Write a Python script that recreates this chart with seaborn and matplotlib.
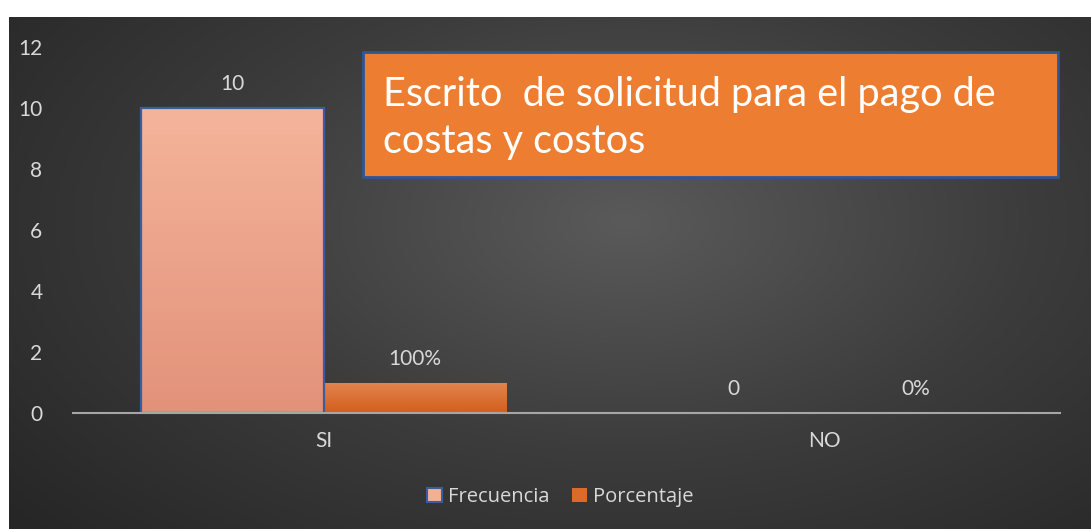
import numpy as np
import pandas as pd
import matplotlib
matplotlib.use("Agg")
import matplotlib.pyplot as plt
import seaborn as sns
from matplotlib.colors import LinearSegmentedColormap
from matplotlib.patches import Rectangle, Patch

categorias = ["SI", "NO"]
frecuencia = [10, 0]
porcentaje = [1, 0]
etiquetas_frec = ["10", "0"]
etiquetas_porc = ["100%", "0%"]
series = ["Frecuencia", "Porcentaje"]
titulo = "Escrito  de solicitud para el pago de\ncostas y costos"
y_ticks = [0, 2, 4, 6, 8, 10, 12]

df = pd.DataFrame({
    "categoria": categorias * 2,
    "valor": frecuencia + porcentaje,
    "serie": [series[0]] * 2 + [series[1]] * 2,
})

sns.set_theme(style="white")
plt.rcParams["font.family"] = ["Lato", "DejaVu Sans"]
txt_color = "#d9d9d9"
fs = 15

fig = plt.figure(figsize=(10.91, 5.29), dpi=100)
fig.patch.set_facecolor("white")

# dark radial background
bg = fig.add_axes([9 / 1091, 0, 1 - 9 / 1091, 512 / 529])
bg.set_axis_off()
gx, gy = np.meshgrid(np.linspace(0, 1, 400), np.linspace(0, 1, 200))
dist = np.sqrt(((gx - 0.57) / 0.75) ** 2 + ((gy - 0.40) / 0.9) ** 2)
bg_cmap = LinearSegmentedColormap.from_list("bg", ["#5a5a5a", "#3c3c3c", "#262626"])
bg.imshow(np.clip(dist, 0, 1), cmap=bg_cmap, aspect="auto", extent=[0, 1, 0, 1],
          vmin=0, vmax=1, origin="upper")
bg.set_xlim(0, 1)
bg.set_ylim(0, 1)

ax = fig.add_axes([73 / 1091, 116 / 529, 1002 / 1091, 366 / 529])
ax.patch.set_alpha(0)

sns.barplot(data=df, x="categoria", y="valor", hue="serie",
            palette=["#f3b096", "#dc6a28"], width=0.73, gap=0,
            saturation=1, ax=ax, legend=False)

grad_colors = {
    0: ("#f4b49b", "#e3927a"),
    1: ("#e38450", "#d25f1c"),
}
for i, cont in enumerate(ax.containers):
    top, bottom = grad_colors[i]
    cm = LinearSegmentedColormap.from_list(f"g{i}", [bottom, top])
    for p in cont.patches:
        h = p.get_height()
        if h <= 0:
            continue
        x0 = p.get_x()
        w = p.get_width()
        im = ax.imshow(np.linspace(1, 0, 100).reshape(-1, 1), cmap=cm, aspect="auto",
                       extent=[x0, x0 + w, 0, h], zorder=2, vmin=0, vmax=1)
        im.set_clip_path(p)
        p.set_facecolor("none")
        if i == 0:
            p.set_edgecolor("#3b5da0")
            p.set_linewidth(1.6)
            p.set_zorder(3)
        else:
            p.set_edgecolor("none")

ax.bar_label(ax.containers[0], labels=etiquetas_frec, padding=10,
             color=txt_color, fontsize=fs)
ax.bar_label(ax.containers[1], labels=etiquetas_porc, padding=10,
             color=txt_color, fontsize=fs)

ax.set_xlim(-0.5, 1.5)
ax.set_ylim(0, 12)
ax.set_yticks(y_ticks)
ax.set_yticklabels([str(t) for t in y_ticks], color=txt_color, fontsize=fs)
ax.tick_params(axis="y", length=0, pad=22)
ax.tick_params(axis="x", length=0, pad=13, colors=txt_color, labelsize=fs)
ax.set_xlabel("")
ax.set_ylabel("")
for s in ["top", "right", "left"]:
    ax.spines[s].set_visible(False)
ax.spines["bottom"].set_color("#a6a6a6")
ax.spines["bottom"].set_linewidth(1.5)
ax.spines["bottom"].set_bounds(-0.5, 1.47)
ax.spines["bottom"].set_zorder(4)

# title box
fig.patches.append(Rectangle((363 / 1091, (529 - 177) / 529), 695 / 1091, 125 / 529,
                             transform=fig.transFigure, facecolor="#ed7d31",
                             edgecolor="#2f5597", linewidth=2, zorder=5))
fig.text(383 / 1091, (529 - 118) / 529, titulo, color="white", fontsize=28.5,
         ha="left", va="center", linespacing=1.32, zorder=6)

handles = [
    Patch(facecolor="#f3b096", edgecolor="#3b5da0", linewidth=1.5, label=series[0]),
    Patch(facecolor="#dc6a28", edgecolor="none", label=series[1]),
]
leg = fig.legend(handles=handles, loc="center", bbox_to_anchor=(560 / 1091, 32 / 529),
                 ncol=2, frameon=False, handlelength=0.75,
                 handleheight=0.75, handletextpad=0.3, columnspacing=1.1,
                 prop={"family": ["Open Sans", "DejaVu Sans"], "size": 14.5})
for t in leg.get_texts():
    t.set_color(txt_color)

fig.savefig("out.png", dpi=100)
